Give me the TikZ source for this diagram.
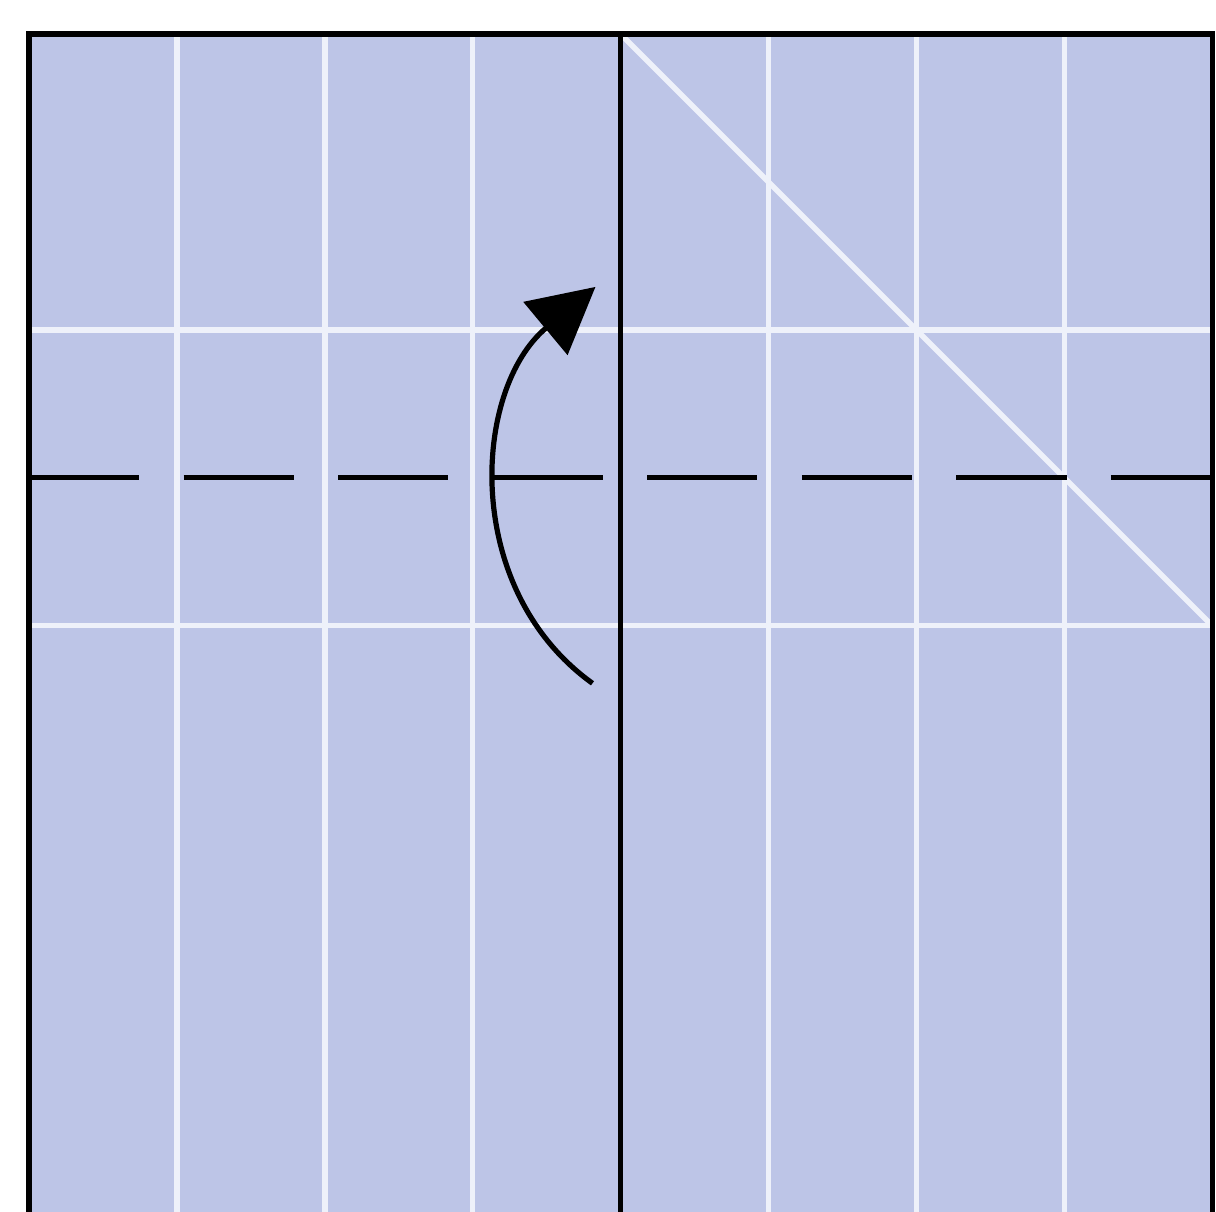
\documentclass[tikz,border=0pt]{standalone}
\usepackage{xcolor}
\usetikzlibrary{arrows.meta}
\definecolor{papel}{RGB}{189,197,231}
\definecolor{pliegue}{RGB}{238,241,250}

\begin{document}
\begin{tikzpicture}[x=1cm,y=1cm]
% (x1 , y1  )(x2 , y2)
\clip (-0.196,0.04) rectangle (8.026,8.23);
\useasboundingbox (-0.196,0.04) rectangle (8.026,8.23);

%% el papel .. %%%%%%%
\fill[papel] (0,0) rectangle (8,8);

%% pliegues blancos %%%%%%%%%%%%%%%%%%%%%%%%%%%%%%%%
\foreach \iA in {1,2,3,5,6,7}{
\draw[pliegue, line width=1.05pt] (\iA,0) -- (\iA,8);
}
\foreach \iB in {4,6}{
\draw[pliegue, line width=1.05pt] (0,\iB) -- (8,\iB);
}
\draw[pliegue, line width=1.05pt] (4,8) -- (8,4);

%% linea de valle .. %%%%%%%
\def\iVctte{5}
\draw[line width=1pt, dash pattern=on 0.745cm off 0.30cm] (0,\iVctte) -- (8,\iVctte);

%% borde y linea central %%%%%%%%%%%%%%%%%%%%%%%%%%%%
\draw[line width=1pt] (0,0) -- (0,8) -- (8,8) -- (8,0);
\draw[line width=1pt] (4,0) -- (4,8);

%% la flecha %%%%%%%%%%%%%%%%%%%%%%%%%%%%%%%%%%%%%%%%%
\coordinate (inicio) at (3.81,3.61);
\coordinate (punta) at (3.83,6.29);
\draw[line width=1pt, -{Triangle[length=0.44cm, width=0.46cm]}]
  (inicio) .. controls (2.92,4.25) and (3.0,5.6) .. (punta);
\end{tikzpicture}
\end{document}
